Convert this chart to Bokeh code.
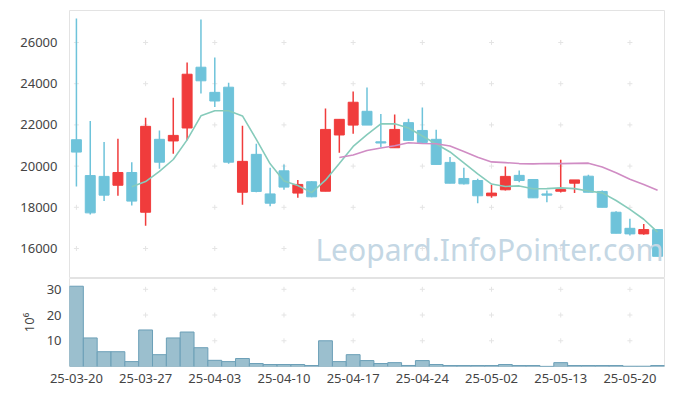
from bokeh.plotting import figure
from bokeh.layouts import column
from bokeh.models import FixedTicker, Range1d, ColumnDataSource, Label
from bokeh.embed import file_html
from bokeh.resources import INLINE
import pandas as pd

dates = ["25-03-20", "25-03-21", "25-03-24", "25-03-25", "25-03-26", "25-03-27", "25-03-28", "25-03-31",
         "25-04-01", "25-04-02", "25-04-03", "25-04-04", "25-04-07", "25-04-08", "25-04-09", "25-04-10",
         "25-04-11", "25-04-14", "25-04-15", "25-04-16", "25-04-17", "25-04-18", "25-04-21", "25-04-22",
         "25-04-23", "25-04-24", "25-04-25", "25-04-28", "25-04-29", "25-04-30", "25-05-02", "25-05-07",
         "25-05-08", "25-05-09", "25-05-12", "25-05-13", "25-05-14", "25-05-15", "25-05-16", "25-05-19",
         "25-05-20", "25-05-21", "25-05-22"]
opens = [21280, 19540, 19500, 19070, 19690, 17760, 21300, 21220, 21850, 24800, 23580, 23830, 18730, 20570,
         18650, 19770, 18690, 19240, 18780, 21510, 21990, 22660, 21180, 20890, 22110, 21730, 21300, 20180,
         19400, 19300, 18560, 18850, 19550, 19350, 18650, 18780, 19170, 19510, 18770, 17760, 16980, 16710, 16920]
highs = [27170, 22190, 21170, 21330, 20190, 22350, 21730, 23320, 25030, 27120, 25270, 24050, 21960, 21090,
         19920, 20080, 19330, 19270, 22790, 22270, 23620, 23810, 22530, 22500, 22300, 22840, 21770, 20440,
         19920, 19380, 19090, 19980, 19790, 19350, 18810, 20310, 19330, 19580, 18810, 17810, 17440, 17190, 16920]
lows = [19010, 17650, 18300, 18560, 18090, 17110, 19870, 20600, 21250, 23520, 22870, 20110, 18120, 18730,
        18050, 18850, 18460, 18490, 18780, 20650, 21570, 21990, 20910, 20890, 21250, 21120, 20080, 19170,
        19110, 18200, 18460, 18810, 19220, 18460, 18250, 18720, 18690, 18730, 18000, 16740, 16630, 16670, 15620]
closes = [20680, 17730, 18590, 19690, 18300, 21930, 20190, 21490, 24460, 24140, 23160, 20190, 20230, 18770,
          18200, 18980, 19110, 18510, 21780, 22270, 23100, 21990, 21120, 21780, 21250, 21150, 20080, 19170,
          19140, 18560, 18690, 19500, 19300, 18460, 18590, 18860, 19330, 18730, 18000, 16740, 16710, 16920, 15620]
volumes_m = [31.2, 11.1, 5.75, 5.75, 1.9, 14.2, 4.6, 11.1, 13.4, 7.3, 2.4, 1.9, 3.1, 1.15, 0.77, 0.77, 0.77,
             0.38, 10.0, 1.9, 4.6, 2.3, 1.15, 1.5, 0.4, 2.3, 0.77, 0.38, 0.38, 0.38, 0.38, 0.77, 0.38, 0.38,
             0.05, 1.5, 0.38, 0.38, 0.38, 0.38, 0.1, 0.1, 0.38]
price_ticks = [16000, 18000, 20000, 22000, 24000, 26000]
volume_ticks = [10, 20, 30]
date_tick_idx = [0, 5, 10, 15, 20, 25, 30, 35, 40]

UP = "#f03c3c"
DOWN = "#6ec3da"
FONT = "Noto Sans"
GRIDC = "#e4e4e4"

n = len(dates)
df = pd.DataFrame(dict(x=list(range(n)), open=opens, high=highs, low=lows, close=closes, vol=volumes_m))
df["top"] = df[["open", "close"]].max(axis=1)
df["bot"] = df[["open", "close"]].min(axis=1)
df["color"] = [UP if c > o else DOWN for o, c in zip(opens, closes)]
df["ma5"] = df["close"].rolling(5).mean()
df["ma20"] = df["close"].rolling(20).mean()
src = ColumnDataSource(df)

xr = Range1d(-0.5, n - 0.5)

p = figure(width=665, height=278, x_range=xr, y_range=Range1d(14544, 27553),
           output_backend="svg", toolbar_location=None,
           min_border_left=69, min_border_right=1, min_border_top=10, min_border_bottom=0)
p.outline_line_color = "#e3e3e3"
p.xgrid.visible = False
p.ygrid.visible = False
p.xaxis.visible = False
p.yaxis.ticker = FixedTicker(ticks=price_ticks)
p.yaxis.axis_line_color = None
p.yaxis.major_tick_line_color = None
p.yaxis.minor_tick_line_color = None
p.yaxis.major_label_text_font = FONT
p.yaxis.major_label_text_font_size = "13px"
p.yaxis.major_label_text_color = "#444444"
p.yaxis.major_label_standoff = 6

gx = [t for t in date_tick_idx for _ in price_ticks]
gy = [v for _ in date_tick_idx for v in price_ticks]
p.scatter(gx, gy, marker="cross", size=5, line_color=GRIDC, line_width=1)

wm = Label(x=17.27, y=14980, text="Leopard.InfoPointer.com", text_align="left",
           text_font=FONT, text_font_size="30px", text_color="#c4d7e4")
p.add_layout(wm)

p.segment("x", "high", "x", "low", source=src, line_color="color", line_width=1.5)
p.vbar(x="x", top="top", bottom="bot", width=0.72, source=src, fill_color="color", line_color="color")
p.line("x", "ma5", source=src, line_color="#86cbbb", line_width=1.6)
p.line("x", "ma20", source=src, line_color="#d08cc4", line_width=1.6)

v = figure(width=665, height=118, x_range=xr, y_range=Range1d(0, 34.2),
           output_backend="svg", toolbar_location=None,
           min_border_left=69, min_border_right=1, min_border_top=0, min_border_bottom=30)
v.outline_line_color = "#e3e3e3"
v.xgrid.visible = False
v.ygrid.visible = False
v.yaxis.ticker = FixedTicker(ticks=volume_ticks)
v.xaxis.ticker = FixedTicker(ticks=date_tick_idx)
v.xaxis.major_label_overrides = {i: dates[i] for i in date_tick_idx}
for ax in (v.xaxis, v.yaxis):
    ax.axis_line_color = None
    ax.major_tick_line_color = None
    ax.minor_tick_line_color = None
    ax.major_label_text_font = FONT
    ax.major_label_text_font_size = "13px"
    ax.major_label_text_color = "#444444"
v.xaxis.major_label_standoff = 1
v.yaxis.major_label_standoff = 2
v.yaxis.axis_label = "10⁶"
v.yaxis.axis_label_text_font = FONT
v.yaxis.axis_label_text_font_style = "normal"
v.yaxis.axis_label_text_font_size = "13px"
v.yaxis.axis_label_text_color = "#444444"
v.yaxis.axis_label_standoff = 6

vx = [t for t in date_tick_idx for _ in volume_ticks]
vy = [y for _ in date_tick_idx for y in volume_ticks]
v.scatter(vx, vy, marker="cross", size=5, line_color=GRIDC, line_width=1)
v.vbar(x="x", top="vol", bottom=0, width=1.0, source=src, fill_color="#9bbfce",
       line_color="#6b9fb7", line_width=1)

layout = column(p, v, spacing=0)
open("out.html", "w").write(file_html(layout, INLINE))
